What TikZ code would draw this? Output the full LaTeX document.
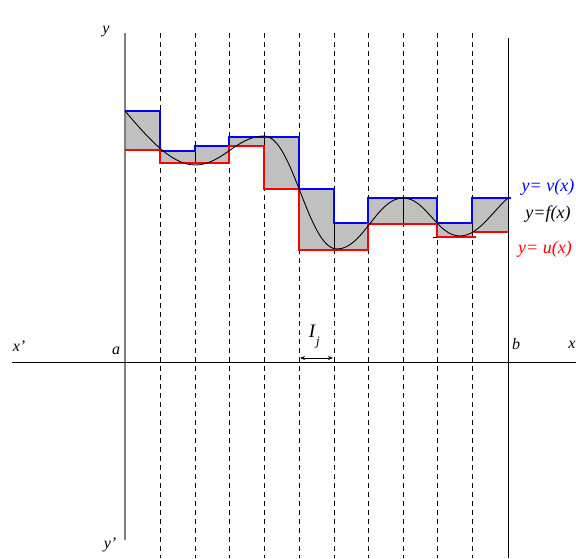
\documentclass[tikz,border=0pt]{standalone}
\usepackage{fontspec}
\setmainfont{Liberation Serif}
\usetikzlibrary{arrows.meta}
\definecolor{cellgray}{RGB}{192,192,192}
\definecolor{axisgray}{RGB}{128,128,128}
\begin{document}
\begin{tikzpicture}[x=1pt,y=-1pt,
  lbl/.style={font=\fontsize{16}{18}\selectfont\itshape, inner sep=0pt},
  curve lbl/.style={font=\fontsize{18}{20}\selectfont\itshape, inner sep=0pt},
  cell/.style={fill=cellgray, draw=black, line width=0.5pt},
  grid line/.style={dash pattern=on 5pt off 4pt, line width=0.7pt},
  upper/.style={blue, line width=1.2pt},
  lower/.style={red, line width=1.2pt}]
\useasboundingbox (0,0) rectangle (576,558);
% cells between u and v
\foreach \xa/\xb/\v/\u in {125/160/111/150, 160/195/151/163, 195/229/146/163, 229/264/137/146, 264/299/137/189, 299/334/189/250, 334/368/223/250, 368/403/198/224, 403/437/198/224, 437/472/223/237, 472/508/198/232}
  \draw[cell] (\xa,\v) rectangle (\xb,\u);
% dashed subdivision lines
\foreach \x in {160,195,229,264,299,334,368,403,437,472}
  \draw[grid line] (\x,33) -- (\x,558);
% axes
\draw[axisgray, line width=1.5pt] (125,33) -- (125,540);
\draw[line width=0.7pt] (508,38) -- (508,558);
\draw[line width=0.7pt] (12,362) -- (576,362);
% upper step function v
\draw[upper] (125,111) -- (160,111) -- (160,151) -- (195,151) -- (195,146) -- (229,146) -- (229,137) -- (299,137) -- (299,189) -- (334,189) -- (334,223) -- (368,223) -- (368,198) -- (437,198) -- (437,223) -- (472,223) -- (472,198) -- (511,198);
% lower step function u
\draw[lower] (125,150) -- (160,150) -- (160,163) -- (229,163) -- (229,146) -- (264,146) -- (264,189) -- (299,189) -- (299,250) -- (368,250) -- (368,224) -- (437,224) -- (437,237) -- (476,237);
\draw[lower] (472,232) -- (508,232);
\draw[line width=0.7pt] (433,237) -- (437,237);
% function f
\draw[line width=0.9pt] (125,111) .. controls (145,134) and (170,165) .. (195,165)
  .. controls (222,165) and (237,136) .. (264,136)
  .. controls (293,136) and (308,249) .. (337,249)
  .. controls (363,249) and (377,198) .. (403,198)
  .. controls (426,198) and (437,236) .. (460,236)
  .. controls (478,236) and (492,212) .. (508,198);
% labels
\node[curve lbl, text=blue] (lv) at (548,187) {y= v(x)};
\node[curve lbl] (lf) at (548,214) {y=f(x)};
\node[curve lbl, text=red] (lu) at (545,249) {y= u(x)};
\node[lbl] (ly) at (106,32) {y};
\node[lbl] (lyp) at (110,545) {y'};
\node[lbl] (lxp) at (19,346) {x'};
\node[lbl] (lx) at (572,345) {x};
\node[lbl] (la) at (116,351) {a};
\node[lbl] (lb) at (516,344) {b};
\node[lbl, font=\fontsize{19}{21}\selectfont\itshape] (lI) at (312,331) {I};
\node[lbl, font=\fontsize{13}{15}\selectfont\itshape] (lj) at (318,343) {j};
% interval arrow
\coordinate (ia) at (300,358);
\coordinate (ib) at (333,358);
\draw[{Stealth[length=5pt,width=4pt]}-{Stealth[length=5pt,width=4pt]}, line width=0.9pt] (ia) -- (ib);
\end{tikzpicture}
\end{document}
